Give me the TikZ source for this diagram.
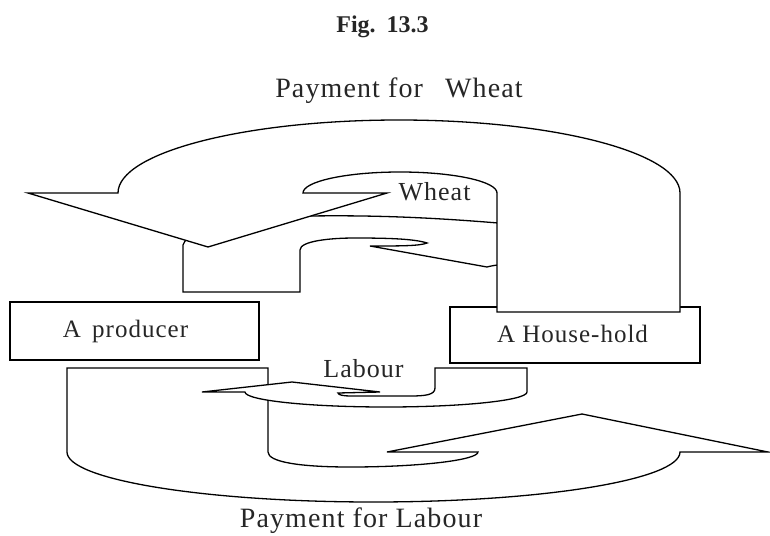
\documentclass[tikz,border=0pt]{standalone}
\usepackage{fontspec}
\setmainfont{Liberation Serif}
\newfontfamily\lsfont{Liberation Serif}[LetterSpace=4]
\begin{document}
\begin{tikzpicture}[x=1pt,y=-1pt,
  flowshape/.style={draw=black,line width=1.3pt,fill=white,line join=miter},
  box/.style={draw=black,line width=1.3pt,fill=white},
  lbl/.style={inner sep=0pt,anchor=base,text=black!85}]
\useasboundingbox (0,0) rectangle (770,535);

% boxes
\draw[box] (10,302) rectangle (259,360);
\draw[box] (450,307) rectangle (700,363);

% small "Wheat" U-turn arrow (behind the big one)
\draw[flowshape] (510,224) .. controls (440,218) and (380,215) .. (310,216)
  .. controls (240,217) and (190,225) .. (183,245) -- (183,292) -- (300,292) -- (300,250)
  .. controls (300,241) and (330,238) .. (355,238)
  .. controls (390,238) and (415,239) .. (427,243)
  .. controls (420,246) and (400,246) .. (370,246)
  -- (487,267) .. controls (491,266) and (494,265) .. (510,264) -- cycle;

% big "Payment for Wheat" arrow
\draw[flowshape] (497,312) -- (497,193)
  .. controls (497,181.4) and (453.6,172) .. (400,172)
  .. controls (346.4,172) and (303,181.4) .. (303,193)
  -- (387,193) -- (208,247) -- (28,193) -- (118,193)
  .. controls (118,152.7) and (243.8,120) .. (399,120)
  .. controls (554.2,120) and (680,152.7) .. (680,193)
  -- (680,312) -- cycle;

% big "Payment for Labour" arrow
\draw[flowshape] (268,368) -- (67,368) -- (67,452)
  .. controls (67,479.6) and (204.2,502) .. (373.5,502)
  .. controls (542.8,502) and (680,479.6) .. (680,452)
  -- (768,452) -- (582,414) -- (387,452) -- (478,452)
  .. controls (478,460) and (420,467) .. (350,467)
  .. controls (300,467) and (268,462) .. (268,452) -- cycle;

% small "Labour" U-turn arrow
\draw[flowshape] (527,368) -- (435,368) -- (435,388)
  .. controls (435,395) and (425,396) .. (410,396) -- (350,396)
  .. controls (344,396) and (338,395) .. (338,393)
  -- (380,392) -- (292,382) -- (202,392) -- (245,392)
  .. controls (245,400.3) and (308.1,407) .. (386,407)
  .. controls (463.9,407) and (527,400.3) .. (527,392) -- cycle;

% texts
\node[lbl,font=\bfseries\fontsize{24}{26}\selectfont] (fig) at (382.5,33) {Fig.\hspace{3pt} 13.3};
\node[lbl,font=\lsfont\fontsize{28}{30}\selectfont] (pw) at (399,97) {Payment for\hspace{14pt} Wheat};
\node[lbl,font=\lsfont\fontsize{26}{28}\selectfont] (wh) at (434.5,200) {Wheat};
\node[lbl,font=\lsfont\fontsize{25}{27}\selectfont] (prod) at (125.5,337) {A\hspace{4pt} producer};
\node[lbl,font=\lsfont\fontsize{25}{27}\selectfont] (hh) at (572.5,342) {A House-hold};
\node[lbl,font=\lsfont\fontsize{26}{28}\selectfont] (lab) at (363.5,377) {Labour};
\node[lbl,font=\lsfont\fontsize{28}{30}\selectfont] (pl) at (361,527) {Payment for Labour};
\end{tikzpicture}
\end{document}
